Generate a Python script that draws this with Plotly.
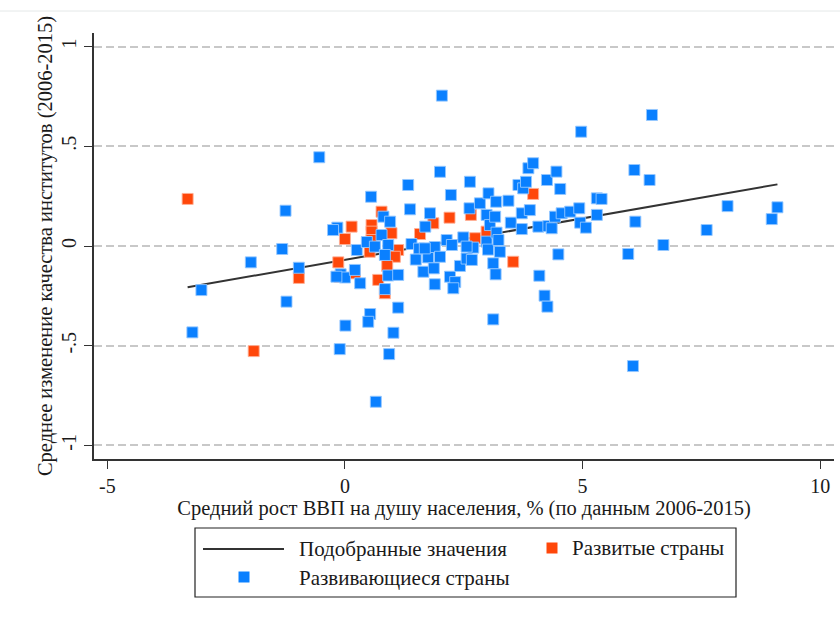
import plotly.graph_objects as go

# Developed economies: mean GDP-per-capita growth (%) vs mean change in institutional quality
developed_x = [-3.31, -1.92, -0.97, -0.14, 0.00, 0.14, -0.11, 0.21, 0.56, 0.56,
               0.56, 0.52, 0.77, 0.98, 1.12, 1.05, 0.70, 0.89, 0.84, 1.58,
               1.86, 2.20, 2.65, 2.74, 2.98, 3.54, 3.96]
developed_y = [0.236, -0.527, -0.160, -0.082, 0.035, 0.097, -0.154, -0.137, 0.105, 0.072,
               0.030, -0.029, 0.172, 0.064, -0.020, -0.054, -0.170, -0.100, -0.237, 0.060,
               0.114, 0.142, 0.156, 0.039, 0.072, -0.079, 0.261]

# Developing economies
developing_x = [-3.21, -3.02, -1.98, -1.25, -1.32, -1.23, -0.97, -0.54, -0.16, -0.25,
                -0.11, 0.01, -0.09, 0.00, 0.21, 0.32, 0.25, 0.46, 0.55, 0.53,
                0.49, 0.65, 0.63, 0.77, 0.81, 0.95, 0.91, 0.84, 0.91, 0.84,
                0.93, 1.02, 1.12, 1.12, 1.33, 1.37, 1.40, 1.56, 1.49, 1.65,
                1.69, 1.79, 1.75, 1.89, 1.87, 1.89, 2.00, 2.04, 2.00, 2.14,
                2.23, 2.25, 2.21, 2.32, 2.28, 2.42, 2.49, 2.56, 2.63, 2.62,
                2.70, 2.84, 2.98, 3.02, 3.05, 2.98, 3.01, 3.12, 3.17, 3.12,
                3.16, 3.18, 3.19, 3.23, 3.26, 3.44, 3.49, 3.65, 3.72, 3.72,
                3.75, 3.81, 3.86, 3.96, 3.89, 4.07, 4.09, 4.20, 4.26, 4.25,
                4.28, 4.35, 4.42, 4.45, 4.53, 4.49, 4.56, 4.74, 4.93, 4.95,
                5.07, 4.97, 5.30, 5.40, 5.30, 5.96, 6.09, 6.11, 6.06, 6.41,
                6.46, 6.70, 7.61, 8.05, 8.98, 9.10, 1.68, 2.56, 2.67, -0.18]
developing_y = [-0.433, -0.221, -0.082, 0.177, -0.015, -0.279, -0.109, 0.445, 0.092, 0.080,
                -0.517, -0.399, -0.142, -0.158, -0.120, -0.187, -0.020, 0.020, 0.247, -0.341,
                -0.380, -0.781, -0.003, 0.055, 0.147, 0.122, 0.005, -0.045, -0.148, -0.216,
                -0.542, -0.435, -0.309, -0.145, 0.306, 0.184, 0.010, -0.013, -0.068, -0.129,
                0.097, 0.164, -0.057, -0.005, -0.112, -0.192, 0.372, 0.754, -0.054, 0.030,
                0.256, 0.005, -0.154, -0.181, -0.212, -0.100, 0.043, -0.063, 0.322, 0.189,
                -0.008, 0.214, 0.156, 0.264, 0.105, 0.022, -0.018, -0.087, -0.142, -0.368,
                0.147, 0.222, 0.067, 0.030, -0.029, 0.227, 0.117, 0.306, 0.164, 0.085,
                0.289, 0.322, 0.390, 0.415, 0.180, 0.097, -0.149, -0.249, -0.304, 0.331,
                0.100, 0.089, 0.147, 0.373, 0.286, -0.042, 0.164, 0.172, 0.189, 0.117,
                0.092, 0.573, 0.239, 0.236, 0.156, -0.040, 0.381, 0.122, -0.602, 0.331,
                0.657, 0.005, 0.080, 0.200, 0.135, 0.194, -0.012, -0.003, -0.070, -0.154]

# Fitted values (linear fit over all countries)
fit_x = [-3.31, 9.10]
fit_y = [-0.207, 0.309]

x_ticks = [-5, 0, 5, 10]
x_tick_labels = ["-5", "0", "5", "10"]
y_ticks = [-1, -0.5, 0, 0.5, 1]
y_tick_labels = ["-1", "-.5", "0", ".5", "1"]

legend_labels = ["Подобранные значения", "Развитые страны", "Развивающиеся страны"]

BLUE = "#0a80ff"
ORANGE = "#ff470a"
FONT = "Liberation Serif"
TEXT = "#1a1a1a"

W, H = 840, 619
L, R, T, B = 94, 6, 33, 160
PW, PH = W - L - R, H - T - B


def px(xp):
    return (xp - L) / PW


def py(yp):
    return (H - B - yp) / PH


fig = go.Figure()

fig.add_trace(go.Scatter(
    x=fit_x, y=fit_y, mode="lines", name=legend_labels[0],
    line=dict(color="#333333", width=2), showlegend=False, hoverinfo="skip"))

fig.add_trace(go.Scatter(
    x=developed_x, y=developed_y, mode="markers", name=legend_labels[1],
    marker=dict(symbol="square", size=11, color=ORANGE,
                line=dict(color="rgba(255,175,150,0.9)", width=1)),
    showlegend=False))

fig.add_trace(go.Scatter(
    x=developing_x, y=developing_y, mode="markers", name=legend_labels[2],
    marker=dict(symbol="square", size=11, color=BLUE,
                line=dict(color="rgba(150,200,255,0.9)", width=1)),
    showlegend=False))

shapes = []
annotations = []

# thin rule across the top of the page
shapes.append(dict(type="line", xref="paper", yref="paper",
                   x0=px(0), x1=px(W), y0=py(11), y1=py(11),
                   line=dict(color="#e4e8e8", width=1)))

# legend frame
shapes.append(dict(type="rect", xref="paper", yref="paper",
                   x0=px(195), x1=px(736), y0=py(528), y1=py(597),
                   line=dict(color="#222222", width=1.2), fillcolor="white"))
# fitted line key
shapes.append(dict(type="line", xref="paper", yref="paper",
                   x0=px(203), x1=px(284), y0=py(549), y1=py(549),
                   line=dict(color="#333333", width=2)))
# marker keys
for cx, cy, col in [(552, 548, ORANGE), (244, 577, BLUE)]:
    shapes.append(dict(type="rect", xref="paper", yref="paper",
                       xsizemode="pixel", ysizemode="pixel",
                       xanchor=px(cx), yanchor=py(cy),
                       x0=-5.5, x1=5.5, y0=-5.5, y1=5.5,
                       line=dict(width=0), fillcolor=col))

for label, lx, ly in [(legend_labels[0], 297, 549), (legend_labels[1], 570, 548),
                      (legend_labels[2], 297, 578)]:
    annotations.append(dict(text=label, xref="paper", yref="paper",
                            x=px(lx), y=py(ly), xanchor="left", yanchor="middle",
                            showarrow=False, font=dict(family=FONT, size=21, color=TEXT)))

fig.update_layout(
    width=W, height=H,
    margin=dict(l=L, r=R, t=T, b=B),
    paper_bgcolor="white", plot_bgcolor="white",
    showlegend=False,
    shapes=shapes, annotations=annotations,
    font=dict(family=FONT, size=20, color=TEXT),
    xaxis=dict(
        range=[-5.28, 10.29], tickvals=x_ticks, ticktext=x_tick_labels,
        ticks="outside", ticklen=8, tickwidth=1.3, tickcolor="#333333",
        showline=True, linecolor="#333333", linewidth=1.5,
        showgrid=False, zeroline=False,
        tickfont=dict(family=FONT, size=20, color=TEXT),
        title=dict(text="Средний рост ВВП на душу населения, % (по данным 2006-2015)",
                   font=dict(family=FONT, size=20.5, color=TEXT), standoff=4),
    ),
    yaxis=dict(
        range=[-1.068, 1.068], tickvals=y_ticks, ticktext=y_tick_labels,
        tickangle=-90,
        ticks="outside", ticklen=8, tickwidth=1.3, tickcolor="#333333",
        showline=True, linecolor="#333333", linewidth=1.5,
        showgrid=True, gridcolor="#c8c8c8", gridwidth=2, griddash="8px,4px",
        zeroline=False,
        tickfont=dict(family=FONT, size=20, color=TEXT),
        title=dict(text="Среднее изменение качества институтов (2006-2015)",
                   font=dict(family=FONT, size=20.5, color=TEXT), standoff=0),
    ),
)

fig.write_html("out.html")
